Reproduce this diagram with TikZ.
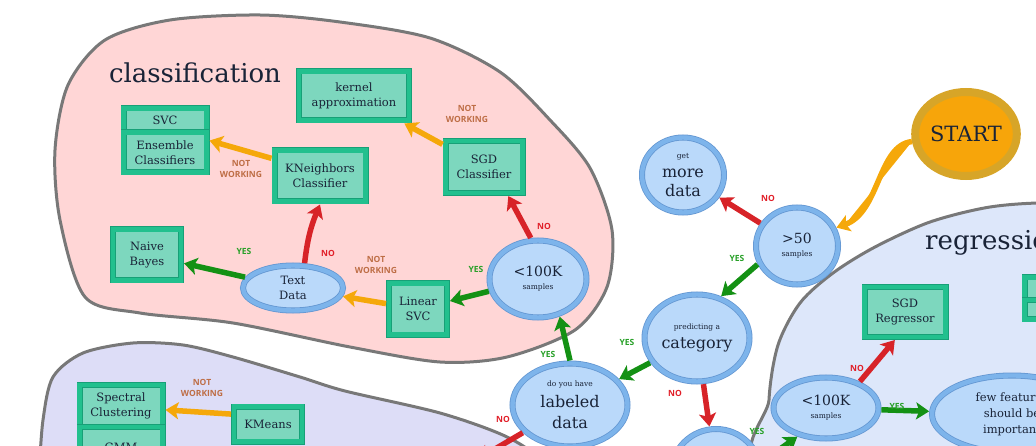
\documentclass[tikz,border=0pt]{standalone}
\usepackage{fontspec}
\setmainfont{DejaVu Serif}
\newfontfamily\lblfont{Open Sans}
\usetikzlibrary{arrows.meta,shapes.geometric}

\definecolor{txt}{HTML}{192337}
\definecolor{boxline}{HTML}{22C08E}
\definecolor{boxedge}{HTML}{17A077}
\definecolor{boxfill}{HTML}{7DD7BE}
\definecolor{ringline}{HTML}{7DB4EB}
\definecolor{ringedge}{HTML}{6497D2}
\definecolor{ringfill}{HTML}{BAD9FA}
\definecolor{startfill}{HTML}{F7A50A}
\definecolor{startline}{HTML}{D7A528}
\definecolor{classfill}{HTML}{FFD6D6}
\definecolor{clustfill}{HTML}{DDDDF7}
\definecolor{regrfill}{HTML}{DDE7FA}
\definecolor{blobline}{HTML}{787878}
\definecolor{yesline}{HTML}{149114}
\definecolor{noline}{HTML}{D72328}
\definecolor{nwline}{HTML}{F5A80A}
\definecolor{yestxt}{HTML}{28A028}
\definecolor{notxt}{HTML}{E11E28}
\definecolor{nwtxt}{HTML}{BE6E46}

\newcommand{\subtxt}{\fontsize{7.5}{9}\selectfont}

\begin{document}
\begin{tikzpicture}[x=1pt, y=-1pt,
  algo/.style={rectangle, draw=boxedge, double=boxline, line width=0.8pt,
    double distance=4.4pt, fill=boxfill, text=txt, align=center,
    inner sep=0pt, outer sep=3pt, font=\fontsize{11.5}{15}\selectfont},
  ask/.style={ellipse, draw=ringedge, double=ringline, line width=0.8pt,
    double distance=4.4pt, fill=ringfill, text=txt, align=center,
    inner sep=0pt, outer sep=3pt, font=\fontsize{16}{19}\selectfont},
  num/.style={ask, font=\fontsize{14}{13}\selectfont},
  plain/.style={ask, font=\fontsize{11.5}{15}\selectfont},
  startnode/.style={ellipse, fill=startfill, draw=startline, line width=8pt,
    text=txt, inner sep=0pt, outer sep=4pt, font=\fontsize{21}{24}\selectfont},
  blob/.style={draw=blobline, line width=3pt},
  title/.style={text=txt, inner sep=0pt, font=\fontsize{26}{30}\selectfont},
  arr/.style={-{Stealth[length=13pt, width=17pt, inset=3pt]}, line width=5.5pt},
  yarr/.style={arr, draw=yesline, fill=yesline},
  narr/.style={arr, draw=noline, fill=noline},
  warr/.style={arr, draw=nwline, fill=nwline},
  lbl/.style={inner sep=0pt, align=center,
    font=\lblfont\bfseries\fontsize{8.5}{10.5}\selectfont},
  yes/.style={lbl, text=yestxt},
  no/.style={lbl, text=notxt},
  nw/.style={lbl, text=nwtxt},
]
\useasboundingbox (0,0) rectangle (1036,446);
\clip (0,0) rectangle (1036,446);

% Regions
\path[blob, fill=classfill] plot[smooth cycle] coordinates {
  (60,220) (55,150) (68,85) (105,40) (170,20) (260,15) (340,22) (430,38)
  (500,72) (550,120) (590,168) (612,230) (607,287) (575,330) (507,357)
  (440,362) (350,347) (233,323) (140,313) (85,297)};
\path[blob, fill=clustfill] plot[smooth cycle] coordinates {
  (38,480) (43,420) (53,377) (83,353) (133,343) (183,345) (233,357)
  (300,377) (345,391) (440,413) (505,436) (540,460) (560,500) (300,540)
  (30,520)};
\path[blob, fill=regrfill] plot[smooth cycle] coordinates {
  (772,470) (769,400) (778,345) (800,303) (833,273) (875,247) (930,222)
  (990,207) (1050,203) (1110,210) (1130,400) (1100,480)};

\node[title] (classtitle) at (195,73) {classification};
\node[title, anchor=west] (regrtitle) at (925,243) {regression};

% Start and first questions
\node[startnode, minimum width=100pt, minimum height=84pt] (start) at (966,134) {START};
\node[ask, minimum width=82pt, minimum height=75pt] (moredata) at (683,175)
  {{\subtxt get}\\more\\data};
\node[num, minimum width=82pt, minimum height=77pt] (fifty) at (797,246)
  {>50\\{\subtxt samples}};
\node[ask, minimum width=105pt, minimum height=87pt] (category) at (697,338)
  {{\subtxt predicting a}\\category};
\node[ask, minimum width=115pt, minimum height=83pt, font=\fontsize{16}{21}\selectfont]
  (labeled) at (570,405) {{\subtxt do you have}\\labeled\\data};
\node[ask, minimum width=90pt, minimum height=90pt] (quantity) at (716,474) {};

% Classification
\node[num, minimum width=97pt, minimum height=77pt] (clsk) at (538,279)
  {<100K\\{\subtxt samples}};
\node[algo, minimum width=58pt, minimum height=51pt] (linsvc) at (418,309) {Linear\\SVC};
\node[plain, minimum width=100pt, minimum height=45pt] (textdata) at (293,288) {Text\\Data};
\node[algo, minimum width=68pt, minimum height=51pt] (naive) at (147,255) {Naive\\Bayes};
\node[algo, minimum width=91pt, minimum height=51pt] (kneigh) at (320,176) {KNeighbors\\Classifier};
\node[algo, minimum width=83pt, minimum height=24pt] (svc) at (165,120.5) {SVC};
\node[algo, minimum width=83pt, minimum height=40pt] (ensemble) at (165,152.5) {Ensemble\\Classifiers};
\node[algo, minimum width=110pt, minimum height=49pt] (kernel) at (354,96) {kernel\\approximation};
\node[algo, minimum width=77pt, minimum height=52pt] (sgdc) at (484,167) {SGD\\Classifier};

% Clustering
\node[algo, minimum width=83pt, minimum height=42pt] (spectral) at (121,406) {Spectral\\Clustering};
\node[algo, minimum width=83pt, minimum height=40pt] (gmm) at (121,447) {GMM};
\node[algo, minimum width=68pt, minimum height=35pt] (kmeans) at (268,424) {KMeans};
\coordinate (clustin) at (478,459);

% Regression
\node[num, minimum width=105pt, minimum height=61pt] (regk) at (826,408)
  {<100K\\{\subtxt samples}};
\node[algo, minimum width=81pt, minimum height=50pt] (sgdr) at (905,312) {SGD\\Regressor};
\node[plain, minimum width=160pt, minimum height=77pt, font=\fontsize{11.5}{16}\selectfont]
  (fewfeat) at (1012,414) {few features\\should be\\important};
\node[algo, minimum width=83pt, minimum height=22.5pt] (lasso) at (1066,288.75) {};
\node[algo, minimum width=83pt, minimum height=19.5pt] (elastic) at (1066,309.75) {};

% Arrows
\draw[warr] (start.188) .. controls (878,145) and (880,212) .. (fifty.25);
\draw[narr] (fifty) -- (moredata) node[no] at (768,198) {NO};
\draw[yarr] (fifty.205) -- (category.60) node[yes] at (737,258) {YES};
\draw[yarr] (category) -- (labeled) node[yes] at (627,342) {YES};
\draw[narr] (category) -- (quantity) node[no] at (675,393) {NO};
\draw[yarr] (labeled.north) -- (clsk.-60) node[yes] at (548,354) {YES};
\draw[narr] (labeled) -- (clustin) node[no] at (503,419) {NO};
\draw[yarr] (clsk) -- (linsvc) node[yes] at (476,269) {YES};
\draw[narr] (clsk.100) -- (sgdc.-50) node[no] at (544,226) {NO};
\draw[warr] (sgdc) -- (kernel) node[nw] at (467,114) {NOT\\WORKING};
\draw[warr] (linsvc) -- (textdata) node[nw] at (376,265) {NOT\\WORKING};
\draw[yarr] (textdata) -- (naive) node[yes] at (244,251) {YES};
\draw[narr] (textdata.65) to[bend left=8] (kneigh.south) node[no] at (328,253) {NO};
\draw[warr] (kneigh.160) -- (ensemble.15) node[nw] at (241,169) {NOT\\WORKING};
\draw[warr] (kmeans.165) -- (spectral.-5) node[nw] at (202,388) {NOT\\WORKING};
\draw[yarr] (quantity.15) -- (regk.225) node[yes] at (757,431) {YES};
\draw[narr] (regk.38) -- (sgdr.-110) node[no] at (857,368) {NO};
\draw[yarr] (regk) -- (fewfeat) node[yes] at (897,406) {YES};

\end{tikzpicture}
\end{document}
